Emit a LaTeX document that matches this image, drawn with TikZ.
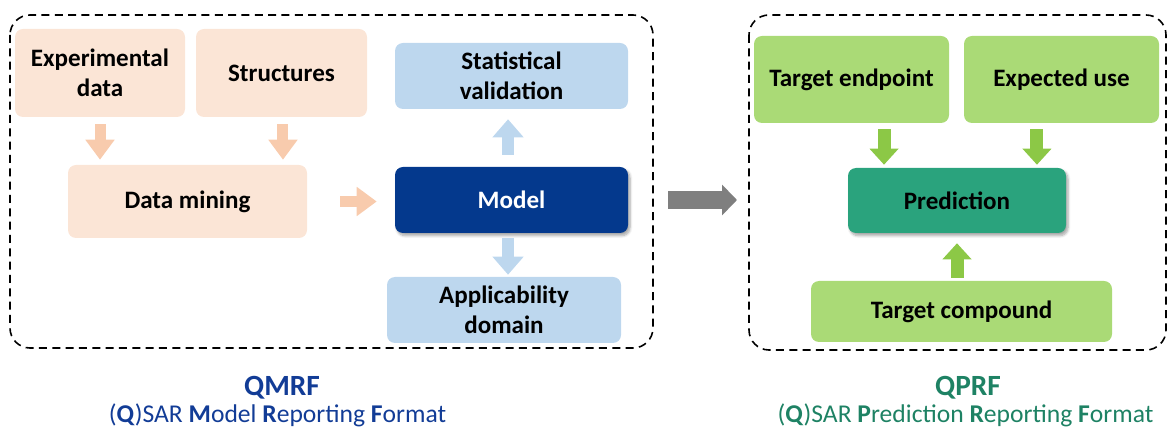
\documentclass[tikz,border=0pt]{standalone}
\usepackage{fontspec}
\setmainfont{Carlito}
\usetikzlibrary{arrows.meta,shadows.blur}

\definecolor{cPeachBox}{RGB}{251,229,214}
\definecolor{cPeachArr}{RGB}{248,203,173}
\definecolor{cBlueBox}{RGB}{189,215,238}
\definecolor{cModel}{RGB}{4,57,141}
\definecolor{cGrayArr}{RGB}{127,127,127}
\definecolor{cGreenBox}{RGB}{170,218,118}
\definecolor{cGreenArr}{RGB}{140,200,70}
\definecolor{cPred}{RGB}{42,163,125}
\definecolor{cQmrf}{RGB}{18,60,150}
\definecolor{cQprf}{RGB}{30,130,100}

\tikzset{
  box/.style={rounded corners=6pt, inner sep=2pt, align=center,
    font=\bfseries\fontsize{18.8}{22.5}\selectfont},
  peach/.style={box, fill=cPeachBox},
  lblue/.style={box, fill=cBlueBox},
  lgreen/.style={box, fill=cGreenBox},
  shade/.style={blur shadow={shadow xshift=1.5pt, shadow yshift=-2pt, shadow opacity=35, shadow blur steps=6}},
  frame/.style={dash pattern=on 6pt off 4pt, line width=1.2pt, rounded corners=15pt},
  peacharrow/.style={draw=cPeachArr, line width=8.25pt, -{Triangle[length=15pt,width=21pt]}},
  bluearrow/.style={draw=cBlueBox, line width=9pt, -{Triangle[length=13.5pt,width=22.5pt]}},
  greenarrow/.style={draw=cGreenArr, line width=9.75pt, -{Triangle[length=12pt,width=21pt]}},
  grayarrow/.style={draw=cGrayArr, line width=13pt, -{Triangle[length=11.25pt,width=22.5pt]}},
  title/.style={font=\bfseries\fontsize{22}{26}\selectfont, anchor=base},
  subtitle/.style={font=\fontsize{19.2}{23}\selectfont, anchor=base},
}

\begin{document}
\begin{tikzpicture}[x=0.75pt,y=0.75pt,yscale=-1,xscale=1]
\useasboundingbox (0,0) rectangle (1168,434);

%Dashed frames
\draw [frame] (10,15) rectangle (653,348);
\draw [frame] (749,15) rectangle (1166,350);

%QMRF side
\node [peach, minimum width=127.5pt, minimum height=66pt] (exp) at (100,73) {Experimental\\data};
\node [peach, minimum width=128.25pt, minimum height=66pt] (struct) at (281.5,73) {Structures};
\node [peach, minimum width=179.25pt, minimum height=54.75pt] (mining) at (187.5,201.5) {Data mining};
\node [lblue, minimum width=174.75pt, minimum height=49.5pt] (stat) at (511.5,76) {Statistical\\validation};
\node [box, shade, fill=cModel, text=white, minimum width=174.75pt, minimum height=49.5pt] (model) at (511.5,200) {Model};
\node [lblue, minimum width=175.5pt, minimum height=49.5pt] (appl) at (504,310) {Applicability\\domain};

\draw [peacharrow, shorten <=5.25pt, shorten >=3.75pt] (exp.south) -- (exp.south |- mining.north);
\draw [peacharrow, shorten <=5.25pt, shorten >=3.75pt] ([xshift=1.1pt]struct.south) -- ([xshift=1.1pt]struct.south |- mining.north);
\draw [peacharrow, shorten <=24.75pt, shorten >=13.5pt] (mining.east) -- (mining.east -| model.west);
\draw [bluearrow, shorten <=9pt, shorten >=7.5pt] ([xshift=-2.6pt]model.north) -- ([xshift=-2.6pt]model.north |- stat.south);
\draw [bluearrow, shorten <=3.75pt, shorten >=1.5pt] ([xshift=-2.6pt]model.south) -- ([xshift=-2.6pt]model.south |- appl.north);

%QPRF side
\node [lgreen, minimum width=146.25pt, minimum height=65.25pt] (endpt) at (851.5,79.5) {Target endpoint};
\node [lgreen, minimum width=146.25pt, minimum height=65.25pt] (use) at (1061.5,79.5) {Expected use};
\node [box, shade, fill=cPred, minimum width=163.5pt, minimum height=48.75pt] (pred) at (957,200.5) {Prediction};
\node [lgreen, minimum width=225.75pt, minimum height=45.75pt] (cmpd) at (961.5,311.5) {Target compound};

\draw [greenarrow, shorten <=4.5pt, shorten >=2.25pt] ([xshift=24.4pt]endpt.south) -- ([xshift=24.4pt]endpt.south |- pred.north);
\draw [greenarrow, shorten <=4.5pt, shorten >=2.25pt] ([xshift=-18.4pt]use.south) -- ([xshift=-18.4pt]use.south |- pred.north);
\draw [greenarrow, shorten <=2.25pt, shorten >=7.5pt] (pred.south |- cmpd.north) -- (pred.south);

%Between the frames
\draw [grayarrow, shorten <=30pt, shorten >=9pt] (model.east) -- (model.east -| 749,0);

% Text Node
\node [title, text=cQmrf] (qmrf) at (282,396) {QMRF};
\node [subtitle, text=cQmrf] (qmrfsub) at (277.5,423) {(\textbf{Q})SAR \textbf{M}odel \textbf{R}eporting \textbf{F}ormat};
% Text Node
\node [title, text=cQprf] (qprf) at (968,396) {QPRF};
\node [subtitle, text=cQprf] (qprfsub) at (965.5,423) {(\textbf{Q})SAR \textbf{P}rediction \textbf{R}eporting \textbf{F}ormat};

\end{tikzpicture}
\end{document}
